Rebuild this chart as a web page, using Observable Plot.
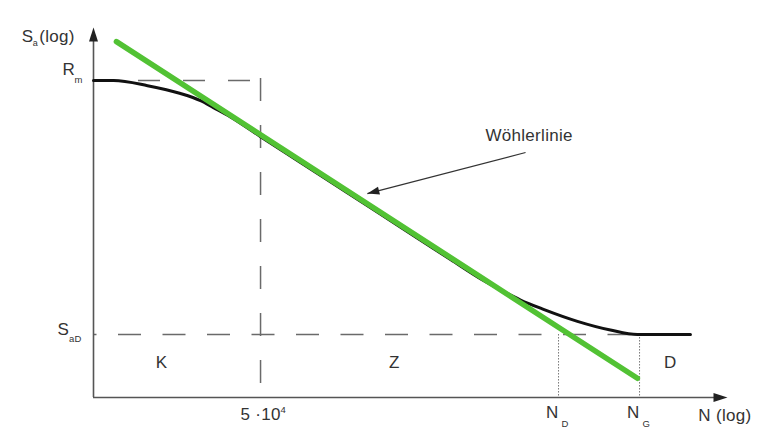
<!DOCTYPE html>
<html>
<head>
<meta charset="utf-8">
<script src="https://cdn.jsdelivr.net/npm/d3@7"></script>
<script src="https://cdn.jsdelivr.net/npm/@observablehq/plot@0.6"></script>
<style>
  html, body { margin: 0; padding: 0; background: #ffffff; }
  #chart svg { display: block; }
  #chart text { letter-spacing: 0.3px; }
</style>
</head>
<body>
<div id="chart"></div>
<script>
// ---- Data (log10 units) ----
// Real S-N curve (black): log10(N) and log10(Sa)
const curveLogN = [4.000, 4.084, 4.226, 4.364, 4.448, 4.502, 4.573, 4.699, 4.866, 5.075, 5.285, 5.494, 5.619, 5.703, 5.787, 5.883, 6.025, 6.163, 6.276, 6.498];
const curveLogS = [3.000, 3.000, 2.983, 2.957, 2.933, 2.910, 2.879, 2.813, 2.727, 2.619, 2.511, 2.403, 2.339, 2.302, 2.268, 2.237, 2.197, 2.168, 2.153, 2.153];
// Straight Wöhler line (green)
const lineLogN = [4.096, 6.276];
const lineLogS = [3.130, 2.007];
// Characteristic levels
const logRm = 3.000;      // R_m
const logSaD = 2.153;     // S_aD
const logN5e4 = 4.699;    // 5·10^4
const logND = 5.946;      // N_D
const logNG = 6.285;      // N_G
const logNEnd = 6.653;    // end of N axis (arrow tip)
const logSMin = 1.943;    // bottom of Sa axis
const logSTop = 3.177;    // top of Sa axis (arrow tip)
const logNMin = 4.000;    // origin of N axis
const dashBottom = 1.983; // lower end of the 5·10^4 dashed line
// Region labels
const regionLabels = ["K", "Z", "D"];
const regionLogN = [4.285, 5.259, 6.414];
const regionLogS = [2.043, 2.043, 2.040];
// Annotation
const annotText = "Wöhlerlinie";
const annotFrom = {x: 5.808, y: 2.760};
const annotTo = {x: 5.146, y: 2.623};

const curve = curveLogN.map((x, i) => ({x, y: curveLogS[i]}));
const wline = lineLogN.map((x, i) => ({x, y: lineLogS[i]}));
const regions = regionLabels.map((t, i) => ({t, x: regionLogN[i], y: regionLogS[i]}));

const font = "Liberation Sans, Arial, Helvetica, sans-serif";
const textFill = "#333";
const axisColor = "#555";
const dashColor = "#6a6a6a";
const subSize = 9.5;

const arrowHead = {
  draw(ctx) { ctx.moveTo(0, 0); ctx.lineTo(4.5, 14); ctx.lineTo(-4.5, 14); ctx.closePath(); }
};
const smallHead = {
  draw(ctx) { ctx.moveTo(0, 0); ctx.lineTo(4, 12); ctx.lineTo(-4, 12); ctx.closePath(); }
};

function label(text, x, y, o = {}) {
  return Plot.text([text], {
    text: d => d, x, y,
    fontSize: o.size ?? 17,
    textAnchor: o.anchor ?? "start",
    lineAnchor: "bottom",
    dx: o.dx ?? 0, dy: o.dy ?? 0,
    fill: textFill
  });
}

const chart = Plot.plot({
  width: 768,
  height: 445,
  marginLeft: 93,
  marginRight: 41,
  marginTop: 27,
  marginBottom: 48,
  x: {type: "linear", domain: [logNMin, logNEnd], axis: null},
  y: {type: "linear", domain: [logSMin, logSTop], axis: null},
  style: {fontFamily: font, background: "#fff"},
  marks: [
    // dashed reference lines
    Plot.ruleY([logRm], {x1: logNMin, x2: logN5e4, stroke: dashColor, strokeWidth: 1.5, strokeDasharray: "22,23"}),
    Plot.ruleX([logN5e4], {y1: logRm + 0.007, y2: dashBottom, stroke: dashColor, strokeWidth: 1.5, strokeDasharray: "23,24"}),
    Plot.ruleY([logSaD], {x1: logNMin, x2: logNG, stroke: dashColor, strokeWidth: 1.5, strokeDasharray: "23,21.5", strokeDashoffset: 19.5}),
    // dotted verticals
    Plot.ruleX([logND, logNG], {y1: logSaD, y2: logSMin, stroke: "#777", strokeWidth: 1, strokeDasharray: "1.5,1.5"}),
    // axes
    Plot.ruleY([logSMin], {x1: logNMin, x2: logNEnd - 0.03, stroke: axisColor, strokeWidth: 1.6}),
    Plot.ruleX([logNMin], {y1: logSMin, y2: logSTop - 0.03, stroke: axisColor, strokeWidth: 1.6}),
    Plot.dot([0], {x: logNEnd, y: logSMin, symbol: arrowHead, r: 5, rotate: 90, fill: "#222", stroke: null}),
    Plot.dot([0], {x: logNMin, y: logSTop, symbol: arrowHead, r: 5, rotate: 0, fill: "#222", stroke: null}),
    // real curve
    Plot.line(curve, {x: "x", y: "y", curve: "monotone-x", stroke: "#111", strokeWidth: 3}),
    // Wöhler line
    Plot.line(wline, {x: "x", y: "y", stroke: "#52c234", strokeWidth: 5.5}),
    // annotation arrow
    Plot.link([0], {x1: annotFrom.x, y1: annotFrom.y, x2: annotTo.x, y2: annotTo.y, stroke: "#333", strokeWidth: 1.2}),
    Plot.dot([0], {x: annotTo.x, y: annotTo.y, symbol: smallHead, r: 5, rotate: -104.5, fill: "#222", stroke: null}),
    label(annotText, 5.640, 2.800),
    // region labels
    Plot.text(regions, {x: "x", y: "y", text: "t", fontSize: 17, lineAnchor: "bottom", fill: textFill}),
    // y axis label S_a(log)
    label("S", 3.700, 3.130),
    label("a", 3.700, 3.130, {size: 9, dx: 11, dy: 4}),
    label("(log)", 3.700, 3.130, {dx: 17.5}),
    // R_m
    label("R", 3.870, 3.017),
    label("m", 3.870, 3.017, {size: subSize, dx: 12, dy: 8}),
    // S_aD
    label("S", 3.849, 2.150),
    label("aD", 3.849, 2.150, {size: subSize, dx: 11.5, dy: 7}),
    // x ticks
    label("5 \u00b710", logN5e4, 1.867, {anchor: "middle"}),
    label("4", logN5e4, 1.867, {size: subSize, dx: 20, dy: -7}),
    label("N", logND, 1.873, {anchor: "end"}),
    label("D", logND, 1.873, {size: subSize, dx: 3, dy: 9}),
    label("N", logNG, 1.873, {anchor: "end"}),
    label("G", logNG, 1.873, {size: subSize, dx: 3, dy: 9}),
    // x axis label
    label("N (log)", 6.531, 1.863)
  ]
});
document.getElementById("chart").appendChild(chart);
</script>
</body>
</html>
